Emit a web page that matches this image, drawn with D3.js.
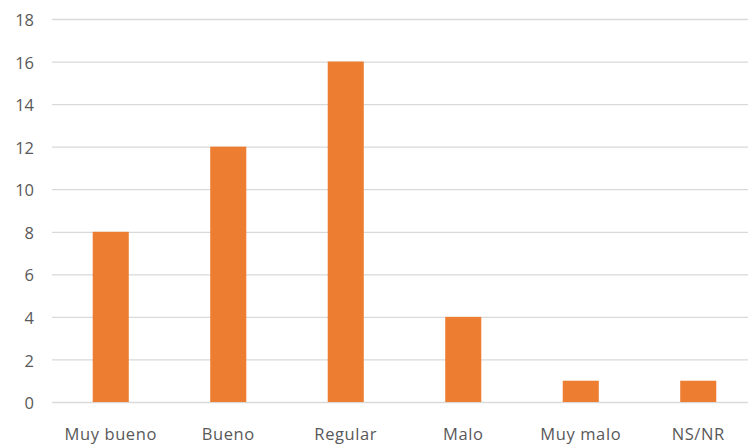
<!DOCTYPE html>
<html>
<head>
<meta charset="utf-8">
<script src="https://cdn.jsdelivr.net/npm/d3@7"></script>
<style>
  html, body { margin: 0; padding: 0; background: #fff; }
  svg { display: block; }
  text { font-family: "Open Sans", "Liberation Sans", sans-serif; fill: #595959; }
</style>
</head>
<body>
<svg id="chart" width="748" height="445"></svg>
<script>
const categories = ["Muy bueno", "Bueno", "Regular", "Malo", "Muy malo", "NS/NR"];
const values = [8, 12, 16, 4, 1, 1];
const yTicks = [0, 2, 4, 6, 8, 10, 12, 14, 16, 18];

const svg = d3.select("#chart");
const plot = { left: 52, right: 757, top: 19, bottom: 402 };

const x = d3.scaleBand()
  .domain(categories)
  .range([plot.left, plot.right])
  .paddingInner(0.693)
  .paddingOuter(0.3465);

const y = d3.scaleLinear()
  .domain([0, 18])
  .range([plot.bottom, plot.top]);

// horizontal gridlines with value labels
const yAxis = d3.axisLeft(y)
  .tickValues(yTicks)
  .tickSize(-(plot.right - plot.left))
  .tickPadding(18)
  .tickFormat(d3.format("d"));

const gy = svg.append("g")
  .attr("transform", `translate(${plot.left},0)`)
  .call(yAxis);
gy.select(".domain").remove();
gy.selectAll(".tick line").attr("stroke", "#d9d9d9").attr("stroke-width", 1.3);
gy.selectAll(".tick text")
  .attr("font-size", 16.5)
  .attr("dy", "0.4em")
  .style("fill", "#595959");

// bars
svg.append("g").selectAll("rect")
  .data(values)
  .join("rect")
  .attr("x", (d, i) => x(categories[i]))
  .attr("width", x.bandwidth())
  .attr("y", d => y(d))
  .attr("height", d => y(0) - y(d))
  .attr("fill", "#ed7d31");

// category labels
const xAxis = d3.axisBottom(x).tickSize(0).tickPadding(26);
const gx = svg.append("g")
  .attr("transform", `translate(0,${plot.bottom})`)
  .call(xAxis);
gx.select(".domain").remove();
gx.selectAll(".tick text")
  .attr("font-size", 16.5)
  .attr("letter-spacing", 0.6)
  .style("fill", "#595959");
</script>
</body>
</html>
